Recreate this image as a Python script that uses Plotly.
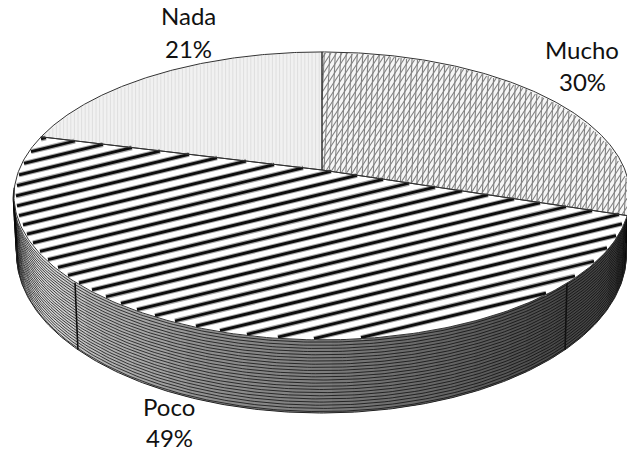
import numpy as np
import plotly.graph_objects as go

categories = ["Mucho", "Poco", "Nada"]
values = [30, 49, 21]
label_lines = [(582, 49, 81), (169, 406, 437), (188, 15, 48)]

W, H = 627, 453
CX, CY0 = 322.0, 170.0
A, B, K = 303.0, 139.3, 0.18
ELL_TOP = (321.0, 196.0, 308.0, 144.0)
ELL_BOT = (321.5, 254.0, 305.0, 159.0)
SEAM = np.radians(127)


def disk(theta):
    u, v = np.sin(theta), np.cos(theta)
    d = 1 + K * v
    return CX + A * u / d, CY0 - B * v / d


def ell(e, t):
    return e[0] + e[2] * np.sin(t), e[1] - e[3] * np.cos(t)


def inside_slice(x, y, a0, a1):
    X = (x - CX) / A
    Y = (CY0 - y) / B
    d = 1 - K * Y
    u, v = X / d, Y / d
    r = np.hypot(u, v)
    th = np.mod(np.arctan2(u, v), 2 * np.pi)
    return (r <= 0.995) & (th >= a0) & (th <= a1)


def hatch(a0, a1, slope, step, color, width, mode="y"):
    """Parallel hatch lines clipped to one slice."""
    xs, ys = [], []
    if mode == "y":
        s = np.arange(-20, 650, 1.0)
        offsets = np.arange(-300, 800, step)
    else:
        s = np.arange(0, 453, 1.0)
        offsets = np.arange(-300, 1000, step)
    for c in offsets:
        if mode == "y":
            px, py = s, c + slope * s
        else:
            px, py = c + slope * s, s
        m = inside_slice(px, py, a0, a1)
        xs += [np.where(m, px, np.nan), [np.nan]]
        ys += [np.where(m, py, np.nan), [np.nan]]
    return go.Scatter(x=np.concatenate(xs), y=np.concatenate(ys), mode="lines",
                      line=dict(color=color, width=width), hoverinfo="skip",
                      connectgaps=False, showlegend=False)


fig = go.Figure()

# side wall, shaded from left to right
t_edges = np.radians(np.linspace(-94, 94, 48))
ref_x = [13, 60, 100, 200, 320, 450, 560, 630]
ref_g = [235, 210, 180, 145, 125, 100, 72, 66]
for t0, t1 in zip(t_edges[:-1], t_edges[1:]):
    ts = np.linspace(np.pi + t0, np.pi + t1 + 0.01, 6)[::-1]
    tx, ty = ell(ELL_TOP, ts)
    bx, by = ell(ELL_BOT, ts[::-1])
    g = int(np.interp(tx.mean(), ref_x, ref_g))
    fig.add_trace(go.Scatter(x=np.r_[tx, bx], y=np.r_[ty, by], mode="lines", fill="toself",
                             fillcolor=f"rgb({g},{g},{g})", line=dict(width=0),
                             hoverinfo="skip", showlegend=False))

# rim-following lines on the wall
ts = np.radians(np.linspace(86, 274, 260))
lx, ly = [], []
for f in np.linspace(0.03, 0.98, 23):
    tx, ty = ell(ELL_TOP, ts)
    bx, by = ell(ELL_BOT, ts)
    lx += list(tx + (bx - tx) * f) + [None]
    ly += list(ty + (by - ty) * f) + [None]
fig.add_trace(go.Scatter(x=lx, y=ly, mode="lines", line=dict(color="rgba(10,10,10,0.75)", width=1),
                         hoverinfo="skip", showlegend=False))

# outlines of the wall and its seams
tx, ty = ell(ELL_BOT, ts)
fig.add_trace(go.Scatter(x=tx, y=ty, mode="lines", line=dict(color="#222222", width=1),
                         hoverinfo="skip", showlegend=False))
for sgn in (-1, 1):
    x0, y0 = ell(ELL_TOP, sgn * SEAM)
    x1, y1 = ell(ELL_BOT, sgn * SEAM)
    fig.add_trace(go.Scatter(x=[x0, x1], y=[y0, y1], mode="lines",
                             line=dict(color="#111111", width=1.6),
                             hoverinfo="skip", showlegend=False))

# slices on the top face, computed from the values
fills = ["#f6f6f6", "#ffffff", "#f1f1f1"]
total = sum(values)
edges = np.r_[0, np.cumsum(values)] / total * 2 * np.pi
for i, name in enumerate(categories):
    th = np.linspace(edges[i], edges[i + 1], 200)
    x, y = disk(th)
    fig.add_trace(go.Scatter(x=np.r_[CX, x, CX], y=np.r_[CY0, y, CY0], mode="lines", fill="toself",
                             fillcolor=fills[i], line=dict(width=0), name=name,
                             hovertemplate=f"{name}: {values[i]}%<extra></extra>", showlegend=False))

# hatching
a0, a1 = edges[0], edges[1]
fig.add_trace(hatch(a0, a1, -0.65, 5.5, "#808080", 1.1, "x"))
fig.add_trace(hatch(a0, a1, -0.05, 5.5, "#808080", 1.1, "x"))
a0, a1 = edges[1], edges[2]
fig.add_trace(hatch(a0, a1, -0.24, 10.2, "#a8a8a8", 5.0, "y"))
fig.add_trace(hatch(a0, a1, -0.24, 10.2, "#0d0d0d", 2.8, "y"))
a0, a1 = edges[2], edges[3]
fig.add_trace(hatch(a0, a1, 0.0, 3.6, "#dedede", 1.0, "x"))

# slice boundaries and rim
for i in range(3):
    th = np.linspace(edges[i], edges[i + 1], 200)
    x, y = disk(th)
    fig.add_trace(go.Scatter(x=np.r_[CX, x, CX], y=np.r_[CY0, y, CY0], mode="lines",
                             line=dict(color="#333333", width=1), hoverinfo="skip", showlegend=False))

annotations = []
for name, val, (lx0, ly1, ly2) in zip(categories, values, label_lines):
    for txt, yy in ((name, ly1), (f"{val}%", ly2)):
        annotations.append(dict(x=lx0, y=yy, text=txt, showarrow=False, xanchor="center", yanchor="middle",
                                font=dict(family="Lato", size=24, color="#111111")))

fig.update_layout(width=W, height=H, margin=dict(l=0, r=0, t=0, b=0), showlegend=False,
                  paper_bgcolor="white", plot_bgcolor="white",
                  xaxis=dict(range=[0, W], visible=False, fixedrange=True),
                  yaxis=dict(range=[H, 0], visible=False, fixedrange=True),
                  annotations=annotations)
fig.write_html("out.html", config=dict(displayModeBar=False),
               post_script="document.body.style.margin='0';document.body.style.overflow='hidden';")
